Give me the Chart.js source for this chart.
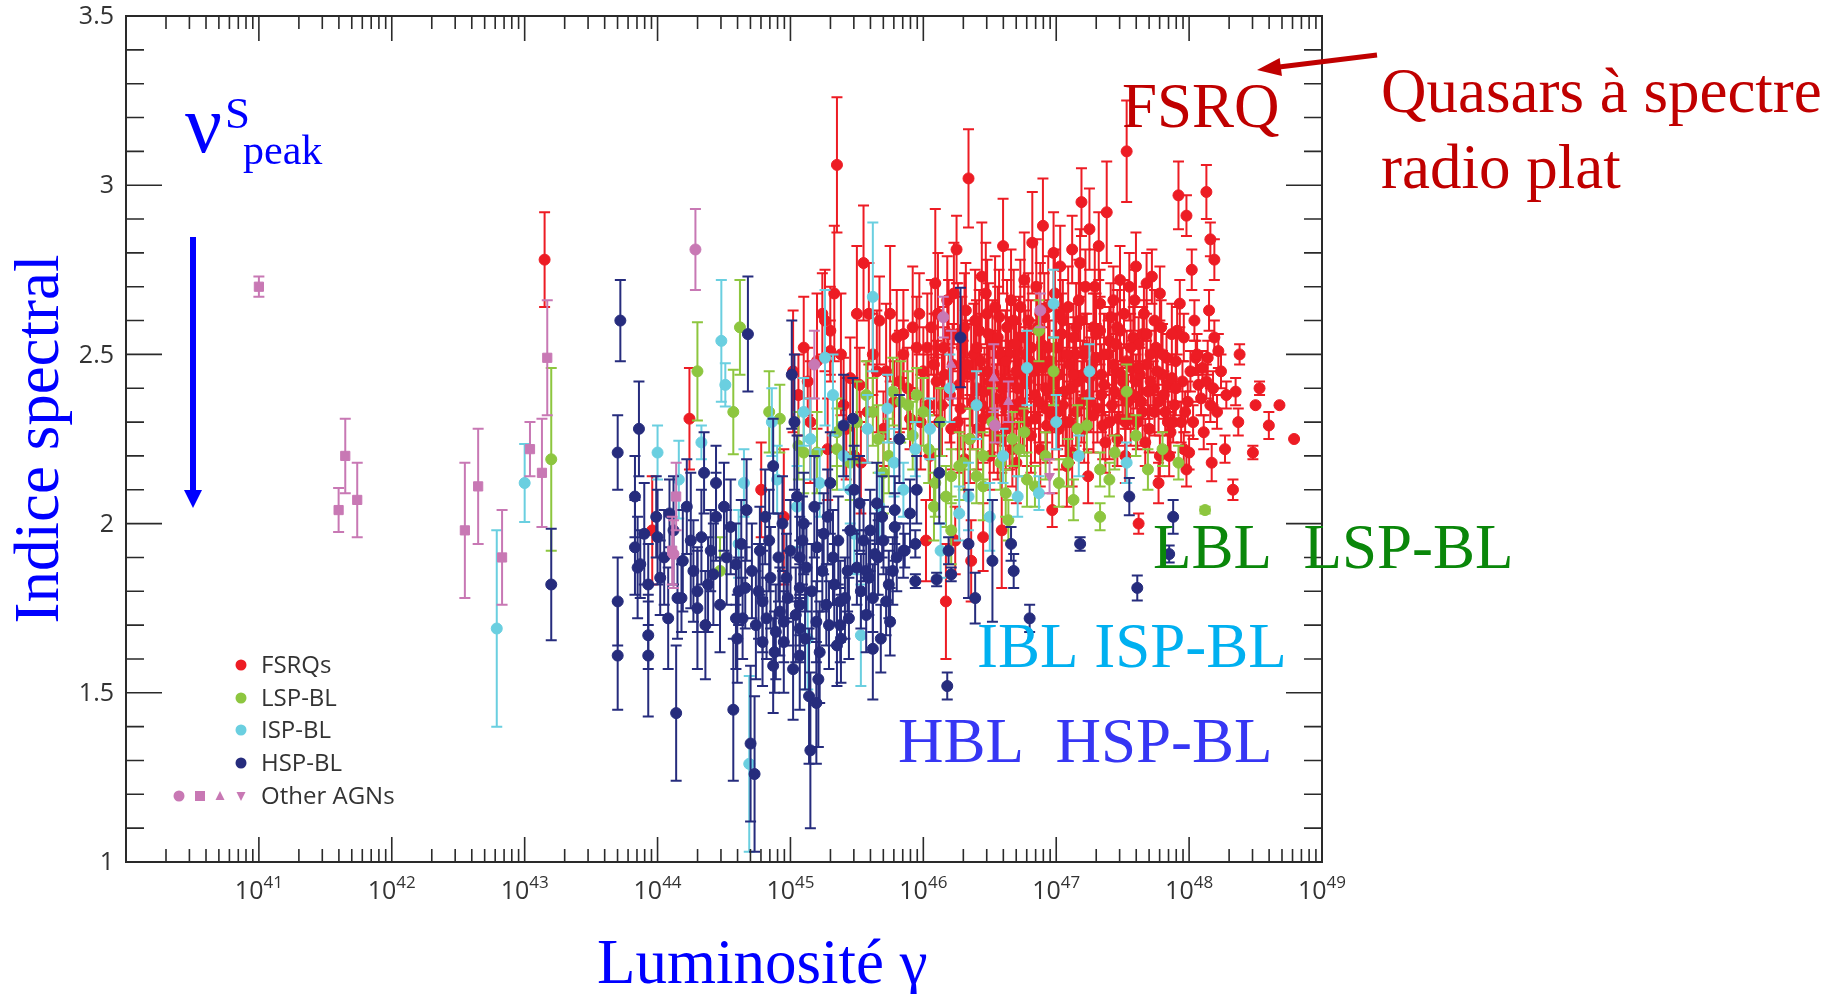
<!DOCTYPE html>
<html>
<head>
<meta charset="utf-8">
<script src="https://cdn.jsdelivr.net/npm/chart.js@4/dist/chart.umd.min.js"></script>
<style>
  html, body { margin: 0; padding: 0; background: #fff; }
  #wrap { width: 1835px; height: 994px; }
</style>
</head>
<body>
<div id="wrap"><canvas id="blazarChart" width="1835" height="994"></canvas></div>
<script>
// [log10 L_gamma, spectral index, error]
const fsrqPoints = [
  [43.15,2.78,0.14],[43.96,1.98,0.16],[44.24,2.31,0.15],[44.78,2.10,0.14],[44.95,2.02,0.2],[45.02,2.45,0.18],
  [45.06,2.38,0.12],[45.10,2.52,0.15],[45.13,2.42,0.1],[45.24,2.62,0.12],[45.26,2.60,0.15],[45.30,2.57,0.13],
  [45.30,2.51,0.09],[45.35,3.06,0.2],[45.40,2.35,0.14],[45.45,2.43,0.12],[45.48,2.20,0.1],[45.52,2.41,0.11],
  [45.55,2.77,0.17],[45.59,2.62,0.15],[45.62,2.50,0.12],[45.67,2.60,0.13],[45.70,2.28,0.11],[45.72,2.45,0.2],
  [45.78,2.36,0.12],[45.80,2.55,0.14],[45.85,2.56,0.13],[45.85,2.50,0.1],[45.88,2.40,0.12],[45.90,2.31,0.09],
  [45.95,2.52,0.15],[45.97,2.62,0.12],[46.00,2.45,0.13],[46.02,1.95,0.12],[46.04,2.35,0.15],[46.06,2.58,0.14],
  [46.09,2.71,0.22],[46.10,2.42,0.12],[46.12,2.30,0.1],[46.15,2.52,0.12],[46.17,1.77,0.17],[46.18,2.66,0.13],
  [46.20,2.38,0.14],[46.22,2.47,0.12],[46.24,1.95,0.1],[46.25,2.81,0.1],[46.26,2.56,0.15],[46.28,2.34,0.12],
  [46.30,2.44,0.1],[46.32,2.63,0.14],[46.34,3.02,0.145],[46.35,2.25,0.13],[46.36,1.89,0.12],[46.38,2.50,0.15],
  [46.40,2.40,0.11],[46.42,2.57,0.12],[46.45,1.96,0.1],[46.45,2.31,0.13],[46.47,2.68,0.15],[46.48,2.45,0.12],
  [46.50,2.20,0.1],[46.52,2.53,0.13],[46.55,2.37,0.1],[46.57,2.61,0.14],[46.59,1.98,0.17],[46.60,2.82,0.14],
  [46.60,2.42,0.1],[46.62,2.28,0.12],[46.64,2.50,0.11],[46.66,2.66,0.15],[46.68,2.35,0.13],[46.70,2.18,0.12],
  [46.72,2.55,0.12],[46.74,2.44,0.1],[46.76,2.72,0.14],[46.78,2.30,0.13],[46.80,2.48,0.12],[46.82,2.83,0.15],
  [46.84,2.38,0.1],[46.86,2.58,0.13],[46.88,2.22,0.11],[46.90,2.88,0.14],[46.90,2.46,0.12],[46.92,2.34,0.1],
  [46.94,2.64,0.15],[46.97,2.04,0.05],[46.98,2.80,0.12],[46.98,2.42,0.11],[47.00,2.52,0.13],[47.02,2.28,0.12],
  [47.03,2.76,0.12],[47.05,2.60,0.12],[47.06,2.39,0.1],[47.08,2.17,0.12],[47.10,2.47,0.12],[47.12,2.81,0.1],
  [47.13,2.55,0.1],[47.15,2.33,0.1],[47.17,2.66,0.12],[47.18,2.77,0.1],[47.19,2.95,0.1],[47.20,2.44,0.1],
  [47.22,2.70,0.11],[47.24,2.14,0.08],[47.25,2.87,0.12],[47.26,2.36,0.09],[47.28,2.58,0.1],[47.30,2.49,0.1],
  [47.32,2.82,0.1],[47.33,2.65,0.1],[47.35,2.29,0.1],[47.36,2.41,0.09],[47.38,2.92,0.15],[47.40,2.54,0.1],
  [47.42,2.35,0.09],[47.43,2.66,0.1],[47.45,2.45,0.08],[47.46,2.25,0.08],[47.48,2.72,0.1],[47.48,2.57,0.09],
  [47.50,2.38,0.08],[47.53,3.10,0.15],[47.53,2.48,0.09],[47.55,2.70,0.1],[47.56,2.31,0.08],[47.58,2.55,0.09],
  [47.60,2.76,0.1],[47.60,2.42,0.08],[47.62,2.00,0.03],[47.62,2.53,0.08],[47.64,2.36,0.07],[47.66,2.62,0.08],
  [47.68,2.71,0.09],[47.68,2.47,0.07],[47.70,2.28,0.07],[47.72,2.73,0.08],[47.73,2.40,0.08],[47.75,2.52,0.07],
  [47.77,2.12,0.06],[47.78,2.68,0.08],[47.78,2.20,0.06],[47.80,2.44,0.07],[47.82,2.33,0.06],[47.84,2.41,0.07],
  [47.86,2.27,0.06],[47.88,2.30,0.06],[47.90,2.48,0.07],[47.92,2.97,0.1],[47.93,2.65,0.07],[47.94,2.30,0.06],
  [47.96,2.55,0.07],[47.96,2.22,0.05],[47.98,2.91,0.06],[47.98,2.16,0.05],[47.99,2.36,0.06],[48.00,2.21,0.05],
  [48.02,2.75,0.06],[48.05,2.49,0.05],[48.06,2.50,0.06],[48.07,2.41,0.05],[48.13,2.98,0.08],[48.13,2.42,0.05],
  [48.14,2.49,0.05],[48.15,2.63,0.06],[48.16,2.84,0.05],[48.16,2.35,0.05],[48.17,2.18,0.055],[48.19,2.78,0.06],
  [48.19,2.55,0.05],[48.22,2.51,0.05],[48.33,2.10,0.03],[48.35,2.39,0.04],[48.37,2.30,0.04],[48.38,2.50,0.03],
  [48.48,2.21,0.02],[48.50,2.35,0],[48.53,2.40,0.02],[48.60,2.29,0.04],[48.68,2.35,0],[48.79,2.25,0],
  [45.15,2.30,0.18],[45.20,2.48,0.2],[45.28,2.22,0.15],[45.33,2.68,0.2],[45.38,2.50,0.18],[45.42,2.28,0.15],
  [45.50,2.62,0.2],[45.53,2.18,0.15],[45.58,2.33,0.15],[45.65,2.45,0.18],[45.75,2.62,0.2],[45.82,2.42,0.15],
  [45.92,2.58,0.18],[45.98,2.30,0.14],[46.03,2.52,0.16],[46.05,2.20,0.13],[46.08,2.47,0.15],[46.11,2.62,0.18],
  [46.14,2.35,0.15],[46.16,2.44,0.14],[46.19,2.56,0.16],[46.21,2.28,0.12],[46.23,2.68,0.15],[46.27,2.41,0.14],
  [46.29,2.52,0.15],[46.31,2.19,0.12],[46.33,2.47,0.13],[46.37,2.36,0.14],[46.39,2.60,0.15],[46.41,2.28,0.12],
  [46.43,2.48,0.14],[46.44,2.73,0.16],[46.46,2.39,0.13],[46.49,2.56,0.15],[46.51,2.33,0.12],[46.53,2.44,0.13],
  [46.54,2.64,0.15],[46.56,2.25,0.12],[46.58,2.50,0.13],[46.61,2.35,0.12],[46.63,2.58,0.14],[46.65,2.42,0.12],
  [46.67,2.22,0.11],[46.69,2.53,0.13],[46.71,2.40,0.12],[46.73,2.64,0.14],[46.75,2.33,0.12],[46.77,2.50,0.13],
  [46.79,2.60,0.14],[46.81,2.26,0.11],[46.83,2.45,0.12],[46.85,2.70,0.14],[46.87,2.36,0.12],[46.89,2.53,0.12],
  [46.91,2.61,0.13],[46.93,2.29,0.11],[46.95,2.48,0.12],[46.96,2.38,0.11],[46.99,2.68,0.13],[47.01,2.33,0.11],
  [47.02,2.44,0.12],[47.04,2.56,0.12],[47.07,2.30,0.1],[47.09,2.64,0.12],[47.11,2.40,0.11],[47.12,2.21,0.1],
  [47.14,2.50,0.11],[47.16,2.42,0.1],[47.18,2.60,0.11],[47.21,2.28,0.1],[47.23,2.52,0.1],[47.24,2.38,0.1],
  [47.27,2.47,0.1],[47.29,2.70,0.11],[47.31,2.34,0.1],[47.33,2.57,0.1],[47.34,2.44,0.09],[47.37,2.24,0.09],
  [47.39,2.50,0.1],[47.41,2.61,0.1],[47.44,2.39,0.09],[47.45,2.53,0.09],[47.47,2.31,0.08],[47.49,2.44,0.09],
  [47.51,2.62,0.1],[47.52,2.20,0.08],[47.54,2.36,0.08],[47.57,2.46,0.08],[47.59,2.66,0.09],[47.61,2.30,0.08],
  [47.63,2.44,0.08],[47.65,2.56,0.08],[47.67,2.24,0.07],[47.69,2.39,0.08],[47.71,2.50,0.07],[47.74,2.33,0.07],
  [47.76,2.45,0.07],[47.79,2.58,0.08],[47.81,2.38,0.07],[47.83,2.49,0.07],[47.85,2.20,0.06],[47.87,2.43,0.07],
  [47.89,2.35,0.06],[47.91,2.57,0.07],[47.95,2.42,0.06],[47.97,2.33,0.06],[48.01,2.45,0.06],[48.03,2.30,0.05],
  [48.04,2.60,0.06],[48.09,2.37,0.05],[48.10,2.46,0.05],[48.11,2.27,0.05],[48.18,2.40,0.05],[48.21,2.33,0.05],
  [48.24,2.45,0.05],[48.27,2.22,0.04],[48.28,2.38,0.04],
  [46.26,2.30,0.15],[46.31,2.58,0.16],[46.36,2.44,0.15],[46.40,2.52,0.14],[46.44,2.35,0.15],[46.48,2.62,0.16],
  [46.50,2.42,0.14],[46.53,2.30,0.15],[46.56,2.55,0.15],[46.59,2.40,0.14],[46.62,2.48,0.15],[46.65,2.30,0.14],
  [46.68,2.60,0.15],[46.70,2.45,0.14],[46.73,2.36,0.13],[46.76,2.55,0.15],[46.78,2.42,0.14],[46.81,2.52,0.14],
  [46.84,2.31,0.13],[46.86,2.46,0.14],[46.88,2.62,0.15],[46.92,2.40,0.13],[46.94,2.52,0.14],[46.97,2.32,0.13],
  [47.00,2.44,0.13],[47.03,2.62,0.14],[47.05,2.35,0.12],[47.08,2.50,0.13],[47.10,2.30,0.12],[47.13,2.44,0.12],
  [47.15,2.58,0.13],[47.19,2.36,0.12],[47.21,2.50,0.12],[47.25,2.43,0.12],[47.28,2.32,0.11],[47.30,2.56,0.12],
  [47.34,2.38,0.11],[47.36,2.50,0.12],[47.40,2.30,0.11],[47.43,2.47,0.11],[47.46,2.58,0.11],[47.50,2.42,0.1],
  [47.52,2.30,0.1],[47.56,2.52,0.1],[47.58,2.38,0.1],[47.62,2.46,0.1],[47.65,2.33,0.1],[47.68,2.56,0.1],
  [47.71,2.42,0.09],[47.74,2.60,0.09],[47.77,2.36,0.09],[47.80,2.50,0.09],[47.84,2.30,0.09],[47.87,2.56,0.09],
  [47.90,2.40,0.08]
];

const lspPoints = [
  [43.20,2.19,0.27],[44.30,2.45,0.145],[44.47,1.86,0.1],[44.57,2.33,0.125],[44.62,2.58,0.14],[44.84,2.33,0.12],
  [44.92,2.31,0.1],[45.06,2.23,0.1],[45.10,2.21,0.12],[45.20,2.21,0.12],[45.35,2.22,0.12],[45.35,2.27,0.1],
  [45.45,2.18,0.11],[45.57,2.38,0.1],[45.62,2.33,0.1],[45.70,2.15,0.12],[45.77,2.39,0.1],[45.83,2.36,0.12],
  [45.885,2.35,0.1],[45.95,2.38,0.08],[46.00,2.33,0.1],[46.08,2.05,0.1],[46.09,2.12,0.1],[46.21,2.14,0.08],
  [46.21,1.98,0.1],[46.27,2.17,0.1],[46.30,2.18,0.08],[46.45,2.11,0.1],[46.45,2.20,0.07],[46.52,2.30,0.1],
  [46.64,2.01,0.06],[46.67,2.25,0.08],[46.76,2.27,0.07],[46.78,2.13,0.08],[46.84,2.11,0.06],[46.87,2.57,0.09],
  [46.98,2.45,0.1],[47.09,2.18,0.07],[47.13,2.07,0.06],[47.23,2.29,0.08],[47.33,2.02,0.04],[47.33,2.16,0.05],
  [47.44,2.21,0.05],[47.53,2.39,0.08],[47.69,2.16,0.06],[47.92,2.18,0.05],[48.12,2.04,0.01],
  [45.50,2.30,0.12],[45.66,2.25,0.1],[45.74,2.20,0.11],[45.92,2.26,0.1],[46.04,2.22,0.1],[46.13,2.30,0.1],
  [46.17,2.08,0.09],[46.35,2.25,0.09],[46.40,2.14,0.08],[46.58,2.18,0.08],[46.62,2.09,0.07],[46.72,2.22,0.08],
  [46.92,2.20,0.07],[47.02,2.12,0.07],[47.16,2.28,0.07],[47.40,2.13,0.05],[47.60,2.26,0.06],[47.80,2.22,0.05]
];

const ispPoints = [
  [42.79,1.69,0.29],[43.00,2.12,0.115],[44.00,2.21,0.08],[44.16,2.13,0.115],[44.33,2.24,0.05],[44.48,2.54,0.18],
  [44.51,2.41,0.064],[44.61,1.94,0.1],[44.65,2.12,0.1],[44.69,1.29,0.26],[44.86,2.30,0.1],[44.90,2.13,0.1],
  [45.05,2.05,0.12],[45.10,2.33,0.1],[45.13,1.66,0.15],[45.22,2.12,0.1],[45.26,2.49,0.2],[45.40,2.20,0.1],
  [45.48,1.97,0.12],[45.53,1.67,0.15],[45.62,2.67,0.22],[45.67,2.05,0.1],[45.73,2.34,0.1],[45.85,2.10,0.08],
  [45.94,2.22,0.08],[46.13,1.92,0.08],[46.27,2.03,0.08],[46.34,2.08,0.1],[46.40,2.35,0.1],[46.50,2.02,0.1],
  [46.71,2.08,0.06],[46.78,2.46,0.11],[46.87,2.09,0.05],[46.98,2.65,0.1],[47.17,2.20,0.06],[47.53,2.18,0.06],
  [45.15,2.25,0.12],[45.32,2.38,0.12],[45.45,2.10,0.1],[45.58,2.28,0.1],[45.78,2.18,0.1],[46.05,2.28,0.09],
  [46.20,2.40,0.1],[46.60,2.20,0.08],[47.00,2.30,0.08],[47.25,2.45,0.08]
];

const hspPoints = [
  [43.20,1.82,0.165],[43.70,2.21,0.11],[43.72,2.60,0.12],[43.70,1.77,0.13],[43.70,1.61,0.16],[43.83,2.08,0.12],
  [43.83,1.93,0.14],[43.85,1.87,0.15],[43.86,2.28,0.14],[43.87,1.88,0.1],[43.93,1.82,0.12],[43.93,1.67,0.1],
  [43.93,1.61,0.18],[43.99,2.02,0.12],[44.00,1.96,0.14],[44.02,1.84,0.11],[44.09,2.03,0.1],[44.14,1.44,0.2],
  [44.15,1.78,0.12],[44.18,1.78,0.1],[44.19,1.89,0.15],[44.25,1.95,0.2],[44.30,1.75,0.18],[44.30,1.80,0.12],
  [44.35,2.15,0.12],[44.38,1.82,0.14],[44.40,1.92,0.12],[44.44,2.12,0.11],[44.44,2.02,0.13],[44.55,1.99,0.14],
  [44.57,1.45,0.21],[44.59,1.88,0.12],[44.59,1.72,0.15],[44.60,1.66,0.13],[44.61,1.80,0.1],[44.64,1.72,0.12],
  [44.66,1.81,0.12],[44.68,2.56,0.17],[44.70,1.35,0.23],[44.73,1.26,0.23],[44.76,1.80,0.14],[44.79,1.77,0.15],
  [44.79,1.65,0.13],[44.82,1.72,0.12],[44.84,1.95,0.15],[44.87,2.17,0.14],[44.87,1.58,0.14],[44.88,1.62,0.12],
  [44.92,1.74,0.13],[44.95,1.65,0.15],[44.95,1.71,0.12],[44.98,1.78,0.14],[45.00,1.92,0.15],[45.01,2.44,0.16],
  [45.02,1.57,0.15],[45.03,2.30,0.2],[45.05,2.08,0.18],[45.07,1.90,0.12],[45.07,1.81,0.14],[45.07,1.76,0.12],
  [45.07,1.69,0.1],[45.07,1.61,0.16],[45.10,2.00,0.15],[45.12,1.87,0.13],[45.14,1.49,0.2],[45.15,1.33,0.23],
  [45.18,2.05,0.15],[45.195,1.71,0.12],[45.195,1.47,0.18],[45.21,1.54,0.2],[45.25,1.97,0.12],[45.27,1.76,0.12],
  [45.30,2.12,0.15],[45.32,1.90,0.14],[45.35,1.64,0.12],[45.375,1.77,0.12],[45.375,1.70,0.11],[45.38,1.66,0.13],
  [45.40,2.29,0.15],[45.41,1.78,0.12],[45.45,1.98,0.12],[45.47,2.31,0.12],[45.50,1.87,0.11],[45.52,2.06,0.14],
  [45.57,1.86,0.12],[45.57,1.73,0.11],[45.60,1.98,0.12],[45.62,1.78,0.1],[45.62,1.63,0.15],[45.635,1.91,0.12],
  [45.65,2.06,0.12],[45.68,1.66,0.1],[45.70,1.95,0.1],[45.72,1.77,0.1],[45.75,1.71,0.1],[45.77,1.86,0.1],
  [45.785,2.04,0.1],[45.785,1.99,0.1],[45.82,2.25,0.13],[45.85,1.92,0.08],[45.86,1.92,0.05],[45.90,2.03,0.1],
  [45.94,1.83,0.02],[45.94,1.94,0.04],[45.95,2.10,0.1],[46.10,1.835,0.02],[46.12,2.15,0.15],[46.18,1.52,0.04],
  [46.19,1.92,0.04],[46.21,1.85,0.02],[46.28,2.55,0.147],[46.34,1.94,0.16],[46.39,1.78,0.075],[46.52,1.89,0.18],
  [46.66,1.94,0.05],[46.68,1.86,0.05],[46.80,1.72,0.04],[47.18,1.94,0.02],[47.55,2.08,0.055],[47.61,1.81,0.037],
  [47.85,1.91,0.025],[47.88,2.02,0.05],
  [43.90,1.97,0.15],[44.05,1.90,0.14],[44.08,1.72,0.15],[44.12,1.98,0.16],[44.22,2.05,0.14],[44.27,1.86,0.15],
  [44.33,1.96,0.14],[44.36,1.70,0.16],[44.42,1.85,0.15],[44.47,1.76,0.14],[44.50,2.05,0.13],[44.52,1.90,0.14],
  [44.63,1.94,0.13],[44.67,2.04,0.15],[44.71,1.86,0.14],[44.74,1.70,0.16],[44.77,1.92,0.13],[44.81,2.02,0.14],
  [44.85,1.84,0.15],[44.89,1.68,0.14],[44.91,1.90,0.13],[44.94,2.00,0.14],[44.97,1.84,0.13],[45.04,1.73,0.14],
  [45.09,1.95,0.13],[45.11,1.66,0.15],[45.16,1.80,0.14],[45.20,1.93,0.13],[45.22,1.62,0.15],[45.24,1.86,0.12],
  [45.28,2.02,0.14],[45.29,1.70,0.13],[45.33,1.82,0.12],[45.36,1.95,0.13],[45.43,1.86,0.12],[45.44,1.72,0.12],
  [45.48,2.10,0.13],[45.53,1.80,0.11],[45.55,1.95,0.12],[45.59,1.84,0.11],[45.66,1.90,0.11],[45.69,2.02,0.12],
  [45.74,1.82,0.1],[45.80,1.90,0.1]
];

const otherCircle = [[44.12,1.91,0.1],[44.285,2.81,0.12],[45.18,2.47,0.1],[46.15,2.61,0.06],[46.54,2.29,0.05],[46.88,2.63,0.05]];
const otherSquare = [
  [41.00,2.70,0.03],[41.60,2.04,0.065],[41.65,2.20,0.11],[41.74,2.07,0.11],[42.55,1.98,0.2],[42.65,2.11,0.17],
  [42.83,1.90,0.14],[43.04,2.22,0.08],[43.13,2.15,0.16],[43.17,2.49,0.17],[44.11,1.92,0.1],[44.14,2.08,0.1]
];
const otherTriUp = [[46.21,2.47,0.1],[46.53,2.43,0.1],[46.64,2.36,0.06]];
const otherTriDown = [[46.95,2.14,0.05]];

const xExponents = [41, 42, 43, 44, 45, 46, 47, 48, 49];
const yTickValues = [1, 1.5, 2, 2.5, 3, 3.5];
const legendLabels = ['FSRQs', 'LSP-BL', 'ISP-BL', 'HSP-BL', 'Other AGNs'];

const RED = '#ED1C24', GREEN = '#8DC63F', CYAN = '#6ACFE0', NAVY = '#262C7D', PINK = '#C878B4';
const TICKFONT = '"Open Sans", "Liberation Sans", sans-serif';
const SERIF = '"Liberation Serif", "DejaVu Serif", serif';

function toXY(list) {
  return list.map(p => ({ x: Math.pow(10, p[0]), y: p[1], err: p[2] }));
}

function series(label, list, color, style, order, extra) {
  return Object.assign({
    label: label,
    data: toXY(list),
    backgroundColor: color,
    borderColor: color,
    pointStyle: style,
    pointRadius: 5.5,
    pointBorderWidth: 1,
    order: order
  }, extra || {});
}

// error bars, drawn just below each dataset's points
const errorBars = {
  id: 'errorBars',
  beforeDatasetDraw(chart, args) {
    const ctx = chart.ctx;
    const ds = chart.data.datasets[args.index];
    const y = chart.scales.y;
    const a = chart.chartArea;
    ctx.save();
    ctx.beginPath();
    ctx.rect(a.left, a.top, a.right - a.left, a.bottom - a.top);
    ctx.clip();
    ctx.strokeStyle = ds.borderColor;
    ctx.lineWidth = 2;
    args.meta.data.forEach((pt, i) => {
      const e = ds.data[i].err;
      if (!e) return;
      const top = y.getPixelForValue(ds.data[i].y + e);
      const bot = y.getPixelForValue(ds.data[i].y - e);
      ctx.beginPath();
      ctx.moveTo(pt.x, top); ctx.lineTo(pt.x, bot);
      ctx.moveTo(pt.x - 5.5, top); ctx.lineTo(pt.x + 5.5, top);
      ctx.moveTo(pt.x - 5.5, bot); ctx.lineTo(pt.x + 5.5, bot);
      ctx.stroke();
    });
    ctx.restore();
  }
};

function arrowHead(ctx, tipX, tipY, angle, len, half) {
  ctx.beginPath();
  ctx.moveTo(tipX, tipY);
  ctx.lineTo(tipX - len * Math.cos(angle) - half * Math.sin(angle), tipY - len * Math.sin(angle) + half * Math.cos(angle));
  ctx.lineTo(tipX - len * Math.cos(angle) + half * Math.sin(angle), tipY - len * Math.sin(angle) - half * Math.cos(angle));
  ctx.closePath();
  ctx.fill();
}

const frameAndText = {
  id: 'frameAndText',
  beforeDraw(chart) {
    const ctx = chart.ctx;
    ctx.save();
    ctx.fillStyle = '#fff';
    ctx.fillRect(0, 0, chart.width, chart.height);
    ctx.restore();
  },
  afterDraw(chart) {
    const ctx = chart.ctx;
    const a = chart.chartArea;
    const xs = chart.scales.x, ys = chart.scales.y;
    ctx.save();

    // frame
    ctx.strokeStyle = '#2a2a2a';
    ctx.lineWidth = 2;
    ctx.strokeRect(a.left, a.top, a.right - a.left, a.bottom - a.top);

    // x ticks (log minors), both top and bottom, pointing inward
    ctx.lineWidth = 1.6;
    ctx.beginPath();
    for (let n = 40; n < 49; n++) {
      for (let k = 1; k <= 9; k++) {
        if (n === 40 && k === 1) continue;
        const px = xs.getPixelForValue(k * Math.pow(10, n));
        const len = k === 1 ? 25 : 13;
        ctx.moveTo(px, a.bottom); ctx.lineTo(px, a.bottom - len);
        ctx.moveTo(px, a.top); ctx.lineTo(px, a.top + len);
      }
    }
    // y ticks every 0.1, major every 0.5, left and right
    for (let t = 10; t <= 35; t++) {
      const py = ys.getPixelForValue(t / 10);
      const len = t % 5 === 0 ? 36 : 18;
      ctx.moveTo(a.left, py); ctx.lineTo(a.left + len, py);
      ctx.moveTo(a.right, py); ctx.lineTo(a.right - len, py);
    }
    ctx.stroke();

    // tick labels
    ctx.fillStyle = '#333';
    ctx.font = '25px ' + TICKFONT;
    ctx.textAlign = 'right';
    ctx.textBaseline = 'middle';
    yTickValues.forEach(v => ctx.fillText(String(v), a.left - 12, ys.getPixelForValue(v) + 1));

    ctx.textBaseline = 'alphabetic';
    ctx.textAlign = 'left';
    xExponents.forEach(n => {
      const px = xs.getPixelForValue(Math.pow(10, n));
      ctx.font = '25px ' + TICKFONT;
      const w1 = ctx.measureText('10').width;
      ctx.font = '17px ' + TICKFONT;
      const w2 = ctx.measureText(String(n)).width;
      const x0 = px - (w1 + w2) / 2;
      ctx.font = '25px ' + TICKFONT;
      ctx.fillText('10', x0, 899);
      ctx.font = '17px ' + TICKFONT;
      ctx.fillText(String(n), x0 + w1, 888);
    });

    // legend
    const legendColors = [RED, GREEN, CYAN, NAVY];
    const legendY = [665, 698, 730, 763, 796];
    ctx.font = '24px ' + TICKFONT;
    ctx.textBaseline = 'middle';
    legendLabels.forEach((lab, i) => {
      ctx.fillStyle = '#333';
      ctx.fillText(lab, 261, legendY[i] + 1);
      if (i < 4) {
        ctx.fillStyle = legendColors[i];
        ctx.beginPath();
        ctx.arc(241, legendY[i], 5.5, 0, Math.PI * 2);
        ctx.fill();
      }
    });
    const oy = legendY[4];
    ctx.fillStyle = PINK;
    ctx.beginPath(); ctx.arc(179, oy, 5.5, 0, Math.PI * 2); ctx.fill();
    ctx.fillRect(195, oy - 5, 10, 10);
    ctx.beginPath(); ctx.moveTo(220, oy - 5); ctx.lineTo(224.5, oy + 4); ctx.lineTo(215.5, oy + 4); ctx.closePath(); ctx.fill();
    ctx.beginPath(); ctx.moveTo(241, oy + 5); ctx.lineTo(245.5, oy - 4); ctx.lineTo(236.5, oy - 4); ctx.closePath(); ctx.fill();

    // axis titles
    ctx.fillStyle = '#0000FF';
    ctx.textBaseline = 'alphabetic';
    ctx.font = '63px ' + SERIF;
    ctx.textAlign = 'left';
    ctx.fillText('Luminosité γ', 597, 983);
    ctx.save();
    ctx.translate(58, 439);
    ctx.rotate(-Math.PI / 2);
    ctx.textAlign = 'center';
    ctx.fillText('Indice spectral', 0, 0);
    ctx.restore();

    // nu_peak^S with arrow
    ctx.textAlign = 'left';
    ctx.font = '82px ' + SERIF;
    ctx.fillText('ν', 185, 152);
    ctx.font = '45px ' + SERIF;
    ctx.fillText('S', 225, 128);
    ctx.font = '42px ' + SERIF;
    ctx.fillText('peak', 243, 164);
    ctx.strokeStyle = '#0000FF';
    ctx.lineWidth = 6;
    ctx.beginPath(); ctx.moveTo(193, 237); ctx.lineTo(193, 492); ctx.stroke();
    arrowHead(ctx, 193, 508, Math.PI / 2, 18, 9);

    // class annotations
    ctx.font = '63px ' + SERIF;
    ctx.fillStyle = '#C00000';
    ctx.fillText('FSRQ', 1122, 127);
    ctx.fillText('Quasars à spectre', 1381, 112);
    ctx.fillText('radio plat', 1381, 188);
    ctx.strokeStyle = '#C00000';
    ctx.lineWidth = 5;
    ctx.beginPath(); ctx.moveTo(1377, 55); ctx.lineTo(1275, 67.5); ctx.stroke();
    arrowHead(ctx, 1257, 70, Math.atan2(70 - 55, 1257 - 1377), 24, 9);

    ctx.fillStyle = '#0A870A';
    ctx.fillText('LBL  LSP-BL', 1153, 568);
    ctx.fillStyle = '#00B0F0';
    ctx.fillText('IBL ISP-BL', 977, 667);
    ctx.fillStyle = '#3636F4';
    ctx.fillText('HBL  HSP-BL', 898, 762);

    ctx.restore();
  }
};

const blazarChartElement = document.getElementById('blazarChart');
new Chart(blazarChartElement.getContext('2d'), {
  type: 'scatter',
  data: {
    datasets: [
      series('Other AGNs', otherCircle, PINK, 'circle', 0),
      series('Other AGNs sq', otherSquare, PINK, 'rect', 0, { pointRadius: 6.5 }),
      series('Other AGNs up', otherTriUp, PINK, 'triangle', 0),
      series('Other AGNs down', otherTriDown, PINK, 'triangle', 0, { pointRotation: 180 }),
      series('HSP-BL', hspPoints, NAVY, 'circle', 1),
      series('ISP-BL', ispPoints, CYAN, 'circle', 2),
      series('LSP-BL', lspPoints, GREEN, 'circle', 3),
      series('FSRQs', fsrqPoints, RED, 'circle', 4)
    ]
  },
  options: {
    responsive: false,
    animation: false,
    devicePixelRatio: 1,
    layout: { padding: { left: 126, top: 16, right: 513, bottom: 132 } },
    plugins: {
      legend: { display: false },
      tooltip: { enabled: false }
    },
    scales: {
      x: { type: 'logarithmic', min: 1e40, max: 1e49, display: false },
      y: { type: 'linear', min: 1, max: 3.5, display: false }
    }
  },
  plugins: [errorBars, frameAndText]
});
</script>
</body>
</html>
